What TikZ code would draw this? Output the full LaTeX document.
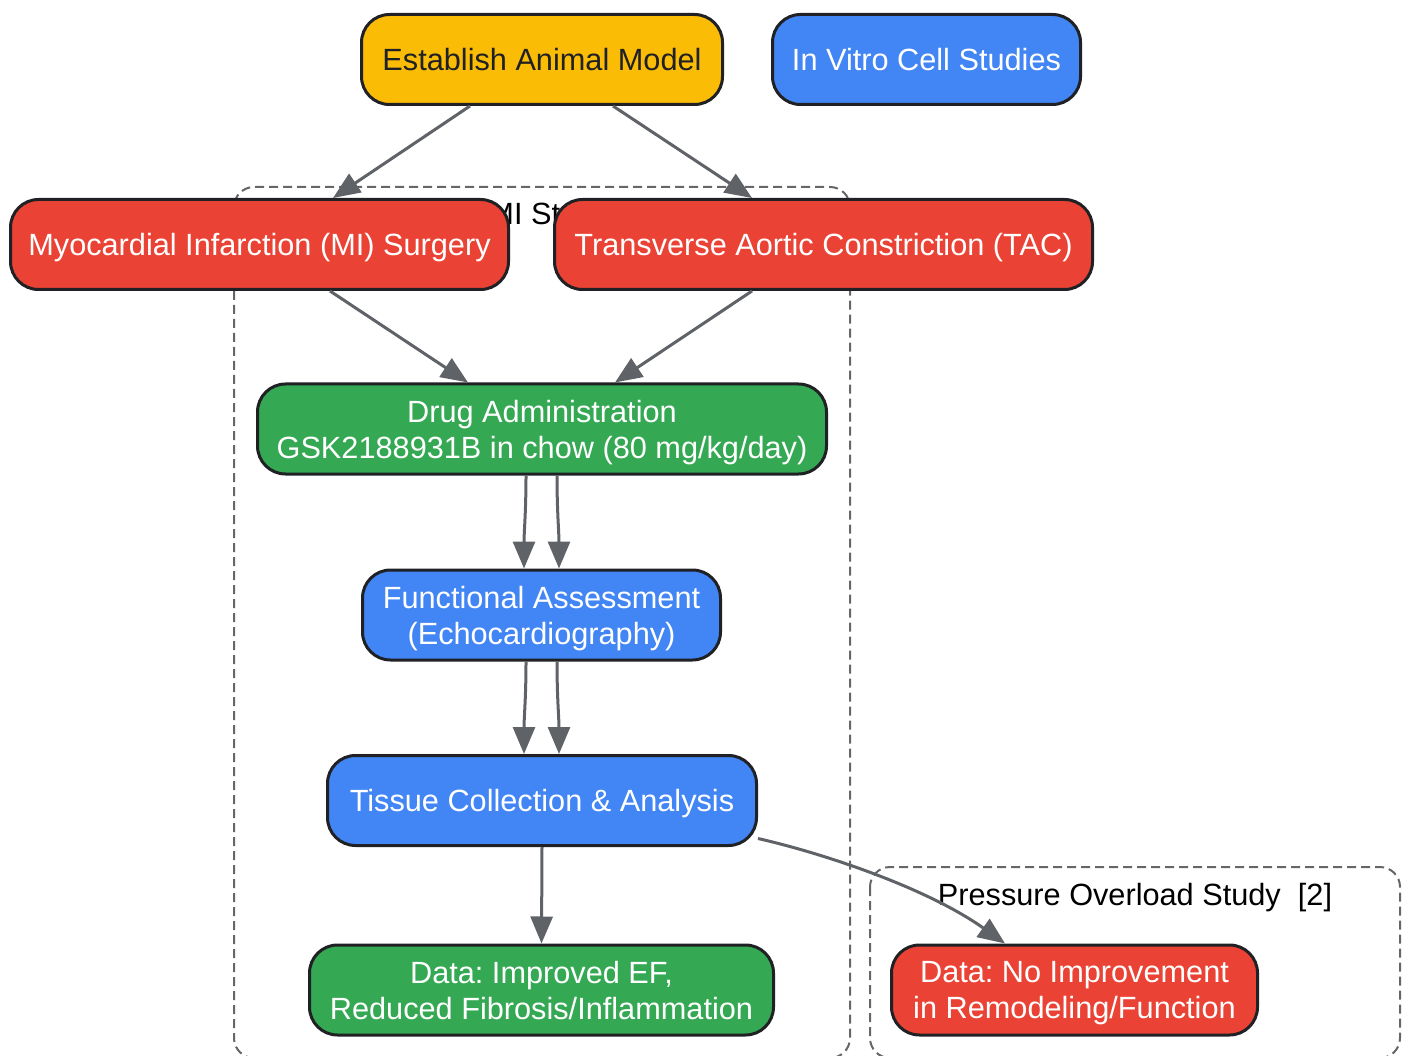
\documentclass[tikz,border=0pt]{standalone}
\usepackage{fontspec}
\setmainfont{Liberation Sans}
\usetikzlibrary{arrows.meta}
\frenchspacing

\definecolor{gyellow}{HTML}{FBBC05}
\definecolor{gblue}{HTML}{4285F4}
\definecolor{gred}{HTML}{EA4335}
\definecolor{ggreen}{HTML}{34A853}
\definecolor{boxline}{HTML}{202124}
\definecolor{edgegray}{HTML}{5F6368}
\definecolor{clustergray}{HTML}{666666}

\tikzset{
	box/.style={draw=boxline, line width=3pt, rounded corners=28pt, minimum height=90pt,
		inner sep=0pt, align=center, text=white, text depth=0pt, font=\fontsize{30.7}{36}\selectfont},
	edge/.style={draw=edgegray, line width=3pt, -{Triangle[length=27pt,width=22pt]}},
	cluster/.style={draw=clustergray, line width=2pt, dash pattern=on 9pt off 5pt, rounded corners=20pt},
	clusterlabel/.style={anchor=base, text=black, font=\fontsize{30.7}{36}\selectfont}
}

\begin{document}
\begin{tikzpicture}[x=1pt, y=1pt]
	\useasboundingbox (0,0) rectangle (1408,-1056);

	% study groups
	\node[clusterlabel] (milabel) at (549,-225) {MI Study};
	\draw[cluster] (234,-187) rectangle (850,-1058);
	\draw[cluster] (870,-867) rectangle (1400,-1058);
	\node[clusterlabel] (polabel) at (1135,-905) {Pressure Overload Study~~[2]};

	% steps
	\node[box, fill=gyellow, text=boxline, minimum width=361pt] (establish) at (542,-59.5) {Establish Animal Model};
	\node[box, fill=gblue, minimum width=308pt] (invitro) at (926.5,-59.5) {In Vitro Cell Studies};
	\node[box, fill=gred, minimum width=498pt] (misurg) at (259.5,-244.5) {Myocardial Infarction (MI) Surgery};
	\node[box, fill=gred, minimum width=538pt] (tac) at (823.5,-244.5) {Transverse Aortic Constriction (TAC)};
	\node[box, fill=ggreen, minimum width=569pt] (drug) at (542,-429) {Drug Administration\\GSK2188931B in chow (80 mg/kg/day)};
	\node[box, fill=gblue, minimum width=358pt] (echo) at (541.5,-615) {Functional Assessment\\(Echocardiography)};
	\node[box, fill=gblue, minimum width=429pt] (tissue) at (542,-800.5) {Tissue Collection \& Analysis};
	\node[box, fill=ggreen, minimum width=464pt] (improved) at (541.5,-990) {Data: Improved EF,\\Reduced Fibrosis/Inflammation};
	\node[box, fill=gred, minimum width=366pt] (noimprove) at (1074.5,-990) {Data: No Improvement\\in Remodeling/Function};

	% connectors
	\draw[edge] ([xshift=-72pt]establish.south) -- ([xshift=73.5pt]misurg.north);
	\draw[edge] ([xshift=71pt]establish.south) -- ([xshift=-71.5pt]tac.north);
	\draw[edge] ([xshift=70.5pt]misurg.south) -- ([xshift=-74pt]drug.north);
	\draw[edge] ([xshift=-71.5pt]tac.south) -- ([xshift=73pt]drug.north);

	\draw[edge] ([xshift=-16pt]drug.south) to[out=-90,in=90] ([xshift=-17.5pt]echo.north);
	\draw[edge] ([xshift=15pt]drug.south) to[out=-90,in=90] ([xshift=17.5pt]echo.north);
	\draw[edge] ([xshift=-15.5pt]echo.south) to[out=-90,in=90] ([xshift=-18pt]tissue.north);
	\draw[edge] ([xshift=15.5pt]echo.south) to[out=-90,in=90] ([xshift=17pt]tissue.north);

	\draw[edge] (tissue.south) -- (improved.north);
	\draw[edge] ([yshift=-38pt]tissue.east) .. controls (830,-855) and (930,-890) .. ([xshift=-69.5pt]noimprove.north);
\end{tikzpicture}
\end{document}
